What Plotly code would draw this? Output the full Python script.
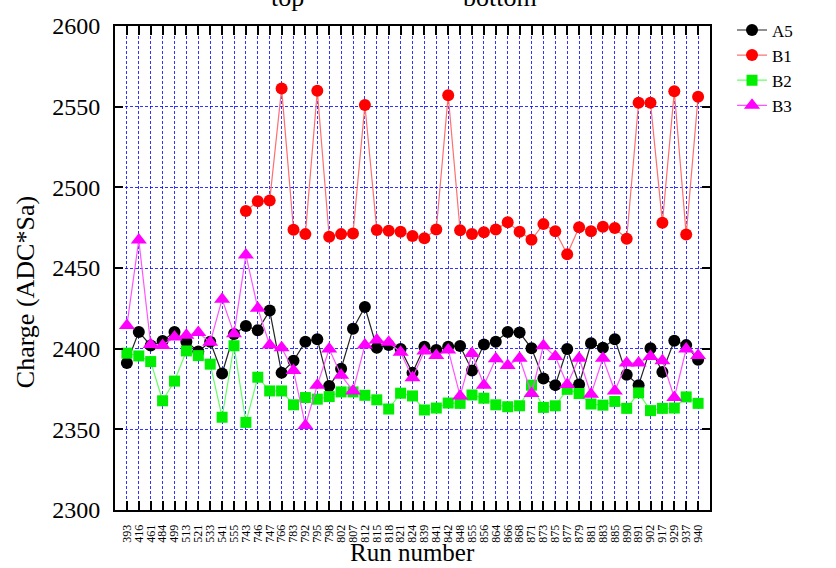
import plotly.graph_objects as go

# Run numbers (categorical x axis)
runs = ["393", "416", "461", "484", "499", "513", "521", "533", "541", "555",
        "743", "746", "747", "766", "783", "792", "795", "798", "802", "807",
        "812", "815", "818", "821", "824", "839", "841", "842", "848", "855",
        "856", "864", "866", "868", "871", "873", "875", "877", "879", "881",
        "883", "885", "890", "891", "902", "917", "929", "937", "940"]

# Charge per channel (ADC*Sa)
a5 = [2391.1, 2410.4, 2402.0, 2404.7, 2410.4, 2404.3, 2398.2, 2404.3, 2384.6, 2409.1,
      2414.0, 2411.4, 2423.6, 2385.0, 2392.5, 2404.3, 2405.9, 2376.8, 2387.6, 2412.4,
      2425.8, 2400.6, 2402.2, 2399.8, 2385.0, 2401.2, 2399.2, 2401.2, 2401.6, 2386.4,
      2402.6, 2404.3, 2410.4, 2410.0, 2400.2, 2381.5, 2377.4, 2399.8, 2377.8, 2403.3,
      2400.6, 2405.9, 2383.9, 2377.4, 2400.2, 2385.6, 2404.9, 2402.2, 2393.1]

b1 = [None, None, None, None, None, None, None, None, None, None,
      2485.3, 2491.4, 2491.8, 2561.2, 2473.7, 2471.0, 2559.8, 2469.4, 2471.0, 2471.4,
      2551.0, 2473.5, 2473.1, 2472.5, 2469.9, 2468.5, 2473.8, 2557.1, 2473.4, 2471.1,
      2472.2, 2473.8, 2478.3, 2472.4, 2467.5, 2477.2, 2472.8, 2458.5, 2475.2, 2472.8,
      2475.6, 2474.8, 2468.1, 2552.4, 2552.4, 2478.0, 2559.6, 2470.7, 2556.1]

b2 = [2397.2, 2395.5, 2392.0, 2367.7, 2379.9, 2398.6, 2395.7, 2390.4, 2357.5, 2401.8,
      2354.3, 2382.3, 2373.8, 2373.8, 2365.2, 2369.7, 2368.7, 2370.3, 2373.2, 2373.2,
      2371.1, 2368.3, 2362.6, 2372.4, 2370.7, 2362.0, 2363.2, 2366.3, 2366.1, 2371.3,
      2369.3, 2365.2, 2364.0, 2364.6, 2377.4, 2363.6, 2364.6, 2374.8, 2372.2, 2365.7,
      2365.0, 2367.3, 2363.0, 2372.6, 2361.6, 2363.0, 2363.2, 2370.1, 2366.1]

b3 = [2414.4, 2467.3, 2402.6, 2402.0, 2407.3, 2408.3, 2410.0, 2403.9, 2430.7, 2409.3,
      2458.1, 2425.0, 2402.2, 2400.6, 2386.4, 2352.4, 2377.4, 2399.8, 2383.5, 2373.8,
      2402.2, 2405.3, 2403.9, 2397.8, 2381.9, 2398.6, 2395.7, 2399.2, 2370.7, 2397.0,
      2377.4, 2393.7, 2389.6, 2394.1, 2372.2, 2401.8, 2395.1, 2377.8, 2394.1, 2371.7,
      2394.1, 2373.8, 2391.1, 2391.1, 2395.1, 2392.5, 2369.7, 2399.8, 2395.7]

SERIF = "Liberation Serif, Times New Roman, serif"
GRID = "rgba(0,0,255,0.8)"

series = [
    ("A5", a5, "#000000", "#222222", "circle", 12),
    ("B1", b1, "#ff0000", "#ff7070", "circle", 12),
    ("B2", b2, "#00ee00", "#66ff66", "square", 11),
    ("B3", b3, "#ff00ff", "#ff55ff", "triangle-up", 14),
]

fig = go.Figure()
for name, vals, mcol, lcol, sym, size in series:
    fig.add_trace(go.Scatter(
        x=runs, y=vals, name=name, mode="lines+markers",
        line=dict(color=lcol, width=1.2),
        marker=dict(color=mcol, symbol=sym, size=size, line=dict(width=0)),
        connectgaps=False,
    ))

fig.update_layout(
    width=836, height=568,
    margin=dict(l=115, r=126, t=18, b=58),
    paper_bgcolor="white", plot_bgcolor="white",
    font=dict(family=SERIF, color="black"),
    showlegend=True,
    legend=dict(x=1.037, y=1.028, xanchor="left", yanchor="top",
                font=dict(family=SERIF, size=17, color="black"),
                bgcolor="rgba(0,0,0,0)", tracegroupgap=0),
    xaxis=dict(
        type="category", range=[-1, 49],
        tickmode="linear", tick0=0, dtick=1,
        showline=True, linecolor="black", linewidth=2, mirror="ticks",
        ticks="inside", ticklen=9, tickwidth=1.5, tickcolor="black",
        tickangle=-90, tickfont=dict(family=SERIF, size=12, color="black"),
        ticklabelstandoff=8,
        showgrid=True, gridcolor=GRID, gridwidth=1, griddash="3px,2px",
        zeroline=False,
    ),
    yaxis=dict(
        range=[2300, 2600], dtick=50,
        showline=True, linecolor="black", linewidth=2, mirror="ticks",
        ticks="inside", ticklen=8, tickwidth=2, tickcolor="black",
        tickfont=dict(family=SERIF, size=24, color="black"),
        ticklabelstandoff=8,
        showgrid=True, gridcolor=GRID, gridwidth=1, griddash="3px,2px",
        zeroline=False,
    ),
    annotations=[
        dict(text="Charge (ADC*Sa)", textangle=-90, xref="paper", yref="paper",
             x=0, y=0.45, xanchor="center", yanchor="middle", xshift=-90,
             showarrow=False, font=dict(family=SERIF, size=26, color="black")),
        dict(text="Run number", xref="paper", yref="paper",
             x=0.5, y=0, xanchor="center", yanchor="middle", yshift=-42,
             showarrow=False, font=dict(family=SERIF, size=25, color="black")),
        dict(text="top", xref="paper", yref="paper",
             x=(287 - 115) / 595, y=1, xanchor="center", yanchor="bottom", yshift=12,
             showarrow=False, font=dict(family=SERIF, size=26, color="black")),
        dict(text="bottom", xref="paper", yref="paper",
             x=(500 - 115) / 595, y=1, xanchor="center", yanchor="bottom", yshift=12,
             showarrow=False, font=dict(family=SERIF, size=26, color="black")),
    ],
)

fig.write_html("out.html")
